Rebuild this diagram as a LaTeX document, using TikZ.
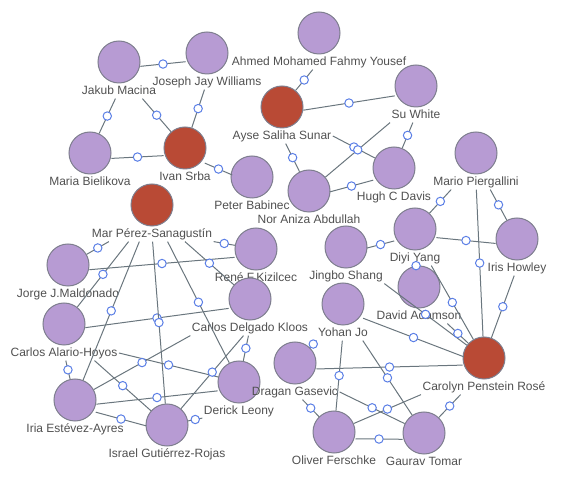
\documentclass[tikz,border=0pt]{standalone}
\usepackage{fontspec}
\setmainfont{Liberation Sans}
\definecolor{nodepurple}{HTML}{B79BD3}
\definecolor{nodered}{HTML}{B94A35}
\definecolor{edgegray}{HTML}{6A767E}
\definecolor{markblue}{HTML}{5B7FE6}
\definecolor{labelgray}{HTML}{505050}
\definecolor{rimgray}{HTML}{7E7E8E}

\begin{document}
\begin{tikzpicture}[x=0.75pt, y=-0.75pt, font=\fontsize{9}{10}\selectfont,
  pu/.style={circle, draw=rimgray, line width=0.75pt, fill=nodepurple, minimum size=31.5pt, inner sep=0},
  rd/.style={pu, fill=nodered},
  lbl/.style={text=labelgray, inner sep=1pt, text height=7pt, text depth=2pt},
  edge/.style={draw=edgegray, line width=0.75pt},
  lowered/.style={transform canvas={yshift=-4.9pt}},
  mk/.style={circle, draw=markblue, fill=white, line width=0.75pt, minimum size=6.3pt, inner sep=0}]
\useasboundingbox (0,0) rectangle (561,477);
% people: circle and name below it
\foreach \n/\x/\y/\s/\t in {
  jakub/119/62/pu/Jakub Macina, joseph/207/53/pu/Joseph Jay Williams,
  ahmed/319/33/pu/Ahmed Mohamed Fahmy Yousef, ayse/282/107/rd/Ayse Saliha Sunar,
  suwhite/416/86/pu/Su White, maria/90/153/pu/Maria Bielikova,
  ivan/185/148/rd/Ivan Srba, peter/252/177/pu/Peter Babinec,
  nor/309/191/pu/Nor Aniza Abdullah, hugh/394/168/pu/Hugh C Davis,
  mario/476/153/pu/Mario Piergallini, mar/152/205/rd/Mar Pérez-Sanagustín,
  jorge/68/265/pu/Jorge J.Maldonado, rene/256/249/pu/René F.Kizilcec,
  delgado/250/299/pu/Carlos Delgado Kloos, alario/64/324/pu/Carlos Alario-Hoyos,
  iria/75/400/pu/Iria Estévez-Ayres, israel/167/425/pu/Israel Gutiérrez-Rojas,
  derick/239/382/pu/Derick Leony, dragan/295/363/pu/Dragan Gasevic,
  yohan/343/304/pu/Yohan Jo, jingbo/346/247/pu/Jingbo Shang,
  diyi/415/229/pu/Diyi Yang, iris/517/239/pu/Iris Howley,
  david/419/287/pu/David Adamson, carolyn/484/358/rd/Carolyn Penstein Rosé,
  oliver/334/432/pu/Oliver Ferschke, gaurav/424/433/pu/Gaurav Tomar}
{
  \node[\s] (\n) at (\x,\y) {};
  \node[lbl] (\n-l) at (\x,\y+29) {\t};
}
% circle to circle
\foreach \a/\b in {jakub/joseph, maria/ivan, ivan/peter, ayse/suwhite,
  nor/hugh, diyi/iris, jingbo/diyi, yohan/carolyn, dragan/carolyn,
  oliver/gaurav, jorge/rene, alario/delgado, iria/derick, iria/israel}
  \draw[edge, lowered] (\a) -- node[mk] {} (\b);
% top group
\foreach \a/\b in {jakub-l/maria, jakub-l.-18/ivan, joseph-l/ivan,
  ahmed-l/ayse, ayse-l/nor, ayse-l.east/hugh, suwhite-l.south west/nor,
  suwhite-l/hugh}
  \draw[edge] (\a) -- node[mk] {} (\b);
% right group
\foreach \a/\b in {mario-l.197/diyi, mario-l.-28/iris, mario-l/carolyn,
  diyi-l.-25/carolyn, diyi-l/david, iris-l/carolyn,
  jingbo-l.south east/carolyn, david-l.-15/carolyn,
  yohan-l/oliver, yohan-l.-21/gaurav, yohan-l.south west/dragan,
  dragan-l.east/gaurav, dragan-l/oliver,
  oliver/carolyn-l.south west, gaurav/carolyn-l.198}
  \draw[edge] (\a) -- node[mk] {} (\b);
% left group
\foreach \a/\b in {mar-l.190/jorge, mar-l.south east/rene, mar-l.198/alario,
  mar-l.211/iria, mar-l/israel, mar-l.-26/derick, mar-l.-13/delgado,
  alario-l/iria, alario-l.east/derick, alario-l.-14/israel,
  iria/delgado-l.south west, israel/delgado-l,
  israel/derick-l, delgado-l/derick}
  \draw[edge] (\a) -- node[mk] {} (\b);
\end{tikzpicture}
\end{document}
